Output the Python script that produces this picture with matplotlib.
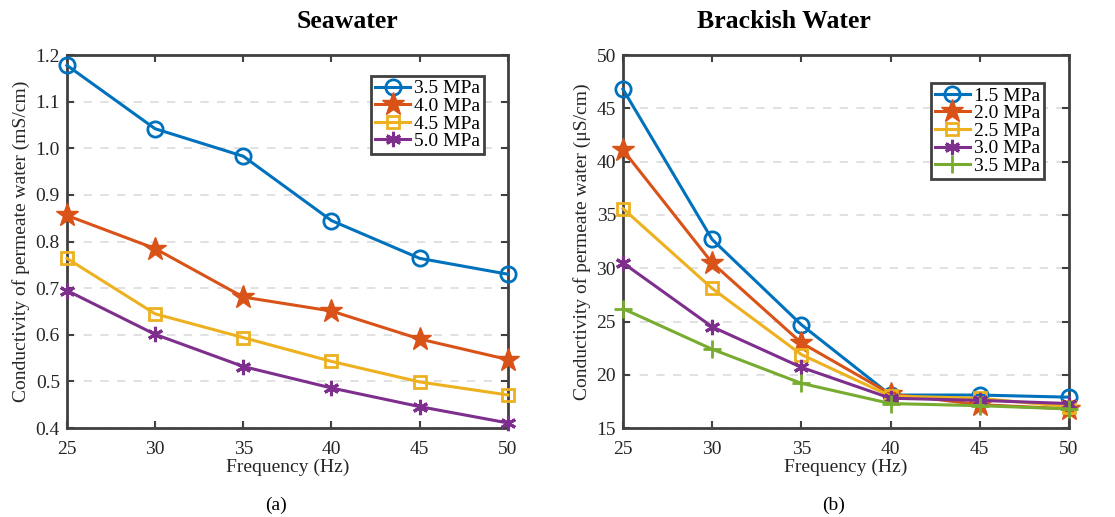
import numpy as np
import matplotlib.pyplot as plt
from matplotlib.ticker import FormatStrFormatter

plt.rcParams['font.family'] = ['Liberation Serif', 'DejaVu Serif']
plt.rcParams['mathtext.fontset'] = 'stix'

freq = [25, 30, 35, 40, 45, 50]

# Seawater (mS/cm)
sea_labels = ["3.5 MPa", "4.0 MPa", "4.5 MPa", "5.0 MPa"]
sea_35 = [1.178, 1.042, 0.983, 0.845, 0.764, 0.730]
sea_40 = [0.856, 0.785, 0.681, 0.651, 0.591, 0.547]
sea_45 = [0.764, 0.645, 0.594, 0.543, 0.499, 0.471]
sea_50 = [0.695, 0.601, 0.532, 0.486, 0.446, 0.411]

# Brackish water (uS/cm)
br_labels = ["1.5 MPa", "2.0 MPa", "2.5 MPa", "3.0 MPa", "3.5 MPa"]
br_15 = [46.8, 32.7, 24.7, 18.1, 18.1, 17.9]
br_20 = [41.1, 30.5, 23.0, 18.2, 17.2, 16.8]
br_25 = [35.6, 28.1, 21.9, 18.0, 17.8, 17.0]
br_30 = [30.5, 24.5, 20.7, 17.8, 17.6, 17.3]
br_35 = [26.2, 22.4, 19.2, 17.3, 17.1, 16.8]

colors = ['#0072BD', '#D95319', '#EDB120', '#7E2F8E', '#77AC30']
asterisk = (6, 2, 0)
styles = [
    dict(marker='o', mfc='none', ms=11, mew=2),
    dict(marker='*', ms=17, mew=1),
    dict(marker='s', mfc='none', ms=9, mew=2),
    dict(marker=asterisk, ms=11, mew=2.2),
    dict(marker='+', ms=13, mew=2),
]

fig = plt.figure(figsize=(11.15, 5.17), dpi=100)
ax1 = fig.add_axes([0.060, 0.172, 0.3955, 0.7215])
ax2 = fig.add_axes([0.5587, 0.172, 0.400, 0.7215])


def style_axes(ax):
    for sp in ax.spines.values():
        sp.set_color('#404040')
        sp.set_linewidth(2)
    ax.tick_params(direction='in', which='both', top=True, right=True,
                   length=5, width=1.5, color='#404040', labelsize=14,
                   labelcolor='#262626')
    ax.tick_params(axis='x', pad=9)
    ax.tick_params(axis='y', pad=5)
    ax.yaxis.grid(True, linestyle=(0, (5, 5)), color='#dcdcdc', linewidth=1.2)
    ax.set_axisbelow(True)
    ax.set_xlim(25, 50)
    ax.set_xticks(freq)
    ax.set_xlabel("Frequency (Hz)", fontsize=14, color='#262626', labelpad=1)


def style_legend(leg):
    fr = leg.get_frame()
    fr.set_edgecolor('#404040')
    fr.set_linewidth(2)
    fr.set_alpha(1)


leg_kw = dict(loc='upper right', fontsize=14, frameon=True, fancybox=False,
              handlelength=1.8, borderpad=0.2, labelspacing=0.0,
              handletextpad=0.2, borderaxespad=0)

sea_series = [sea_35, sea_40, sea_45, sea_50]
for i, (vals, lab) in enumerate(zip(sea_series, sea_labels)):
    ax1.plot(freq, vals, color=colors[i], lw=2.2, label=lab, clip_on=False,
             zorder=3, **styles[i])
style_axes(ax1)
ax1.set_ylim(0.4, 1.2)
ax1.set_yticks(np.arange(0.4, 1.21, 0.1))
ax1.yaxis.set_major_formatter(FormatStrFormatter('%.1f'))
ax1.set_ylabel("Conductivity of permeate water (mS/cm)", fontsize=14,
               color='#262626', labelpad=4)
style_legend(ax1.legend(bbox_to_anchor=(0.946, 0.944), **leg_kw))

br_series = [br_15, br_20, br_25, br_30, br_35]
for i, (vals, lab) in enumerate(zip(br_series, br_labels)):
    ax2.plot(freq, vals, color=colors[i], lw=2.2, label=lab, clip_on=False,
             zorder=3, **styles[i])
style_axes(ax2)
ax2.set_ylim(15, 50)
ax2.set_yticks(np.arange(15, 51, 5))
ax2.set_ylabel("Conductivity of permeate water (\u03bcS/cm)", fontsize=14,
               color='#262626', labelpad=4)
style_legend(ax2.legend(bbox_to_anchor=(0.944, 0.925), **leg_kw))

fig.text(347 / 1115, 1 - 22 / 517, "Seawater", ha='center', va='center',
         fontsize=18.5, fontweight='bold')
fig.text(784 / 1115, 1 - 22 / 517, "Brackish Water", ha='center', va='center',
         fontsize=18.5, fontweight='bold')
fig.text(276 / 1115, 1 - 505 / 517, "(a)", ha='center', va='center', fontsize=14)
fig.text(834 / 1115, 1 - 505 / 517, "(b)", ha='center', va='center', fontsize=14)

fig.savefig("out.png", dpi=100)
